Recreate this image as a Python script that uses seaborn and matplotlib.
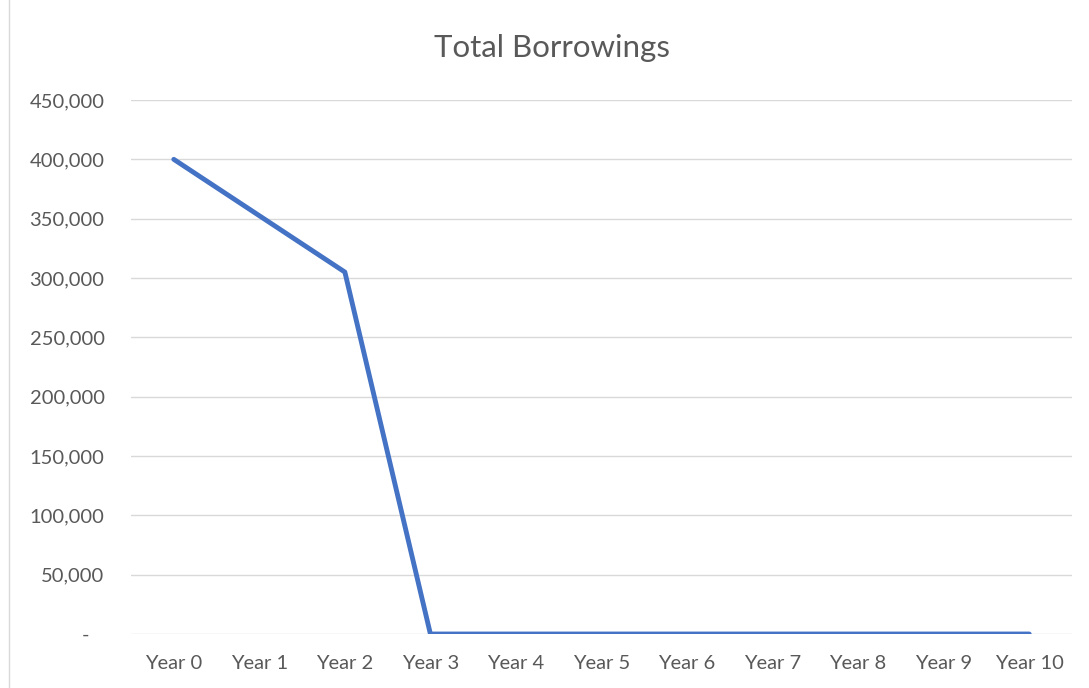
import matplotlib
matplotlib.use("Agg")
import matplotlib.pyplot as plt
import seaborn as sns
import pandas as pd
from matplotlib.ticker import FuncFormatter
from matplotlib.patches import Rectangle

years = ["Year 0", "Year 1", "Year 2", "Year 3", "Year 4", "Year 5",
         "Year 6", "Year 7", "Year 8", "Year 9", "Year 10"]
borrowings = [400000, 352500, 305000, 0, 0, 0, 0, 0, 0, 0, 0]
y_ticks = [0, 50000, 100000, 150000, 200000, 250000, 300000, 350000, 400000, 450000]

sns.set_theme(style="white")
plt.rcParams['font.family'] = ['Lato', 'DejaVu Sans']

df = pd.DataFrame({"Year": years, "Borrowings": borrowings})

fig = plt.figure(figsize=(10.89, 6.88), dpi=100)
ax = fig.add_axes([131/1089, 1-634/688, (1072-131)/1089, (634-100)/688])

sns.lineplot(data=df, x="Year", y="Borrowings", ax=ax, color="#4472C4",
             linewidth=3.5, solid_capstyle="round", solid_joinstyle="round", zorder=3)

ax.set_xlim(-0.5, len(years) - 0.5)
ax.set_ylim(0, 450000)
ax.set_yticks(y_ticks)
ax.yaxis.set_major_formatter(FuncFormatter(lambda v, p: "-   " if v == 0 else f"{int(v):,}"))
ax.grid(axis="y", color="#D9D9D9", linewidth=1.0)
ax.grid(axis="x", visible=False)
for s in ax.spines.values():
    s.set_visible(False)
ax.tick_params(axis="both", length=0, labelcolor="#595959")
ax.tick_params(axis="x", labelsize=14.5, pad=15)
ax.tick_params(axis="y", labelsize=14.5, pad=19)
ax.set_xlabel("")
ax.set_ylabel("")

fig.text(552/1089, 1-48/688, "Total Borrowings", ha="center", va="center",
         fontsize=22.5, color="#595959")

fig.patches.append(Rectangle((9/1089, -0.01), 1.02, 1.02, transform=fig.transFigure,
                             fill=False, edgecolor="#D9D9D9", linewidth=1.0))

fig.savefig("out.png", dpi=100, facecolor="white")
